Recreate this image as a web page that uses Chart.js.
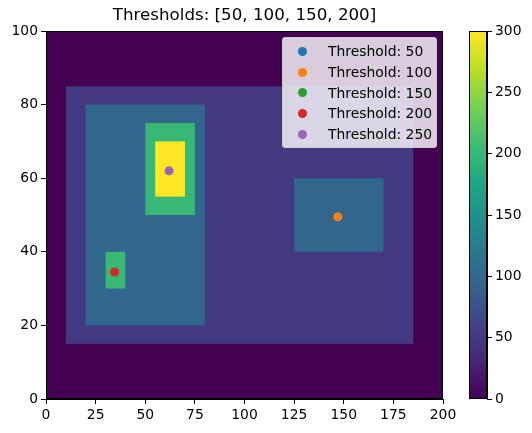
<!DOCTYPE html>
<html>
<head>
<meta charset="utf-8">
<script src="https://cdn.jsdelivr.net/npm/chart.js@4"></script>
<style>
  body { margin: 0; background: #fff; }
  #wrap { position: relative; width: 532px; height: 433px; }
  #main { position: absolute; left: 0; top: 0; }
  #cbar { position: absolute; left: 462px; top: 0; }
  #legend {
    position: absolute; left: 282px; top: 37px; width: 155px;
    padding: 3px 0 3px 0; box-sizing: border-box;
    background: rgba(255,255,255,0.8); border: 1px solid #cccccc; border-radius: 3px;
    font-family: "DejaVu Sans", sans-serif; font-size: 13.9px; color: #000;
  }
  .row { height: 20.7px; display: flex; align-items: center; }
  .dot { width: 9px; height: 9px; border-radius: 50%; margin-left: 15px; margin-right: 21px; }
</style>
</head>
<body>
<div id="wrap">
  <canvas id="main" width="532" height="433"></canvas>
  <canvas id="cbar" width="70" height="433"></canvas>
  <div id="legend"></div>
</div>
<script>
// image regions (drawn in order, later on top)
const rectX0 = [0, 10, 20, 125, 50, 55, 30];
const rectX1 = [200, 185, 80, 170, 75, 70, 40];
const rectY0 = [0, 15, 20, 40, 50, 55, 30];
const rectY1 = [100, 85, 80, 60, 75, 70, 40];
const rectValue = [0, 50, 100, 100, 200, 300, 200];

// centroid markers per threshold
const thresholds = [50, 100, 150, 200, 250];
const pointX = [[], [147], [], [34.5], [62]];
const pointY = [[], [49.5], [], [34.5], [62]];
const pointColors = ["#1f77b4", "#ff7f0e", "#2ca02c", "#d62728", "#9467bd"];

const titleText = "Thresholds: [50, 100, 150, 200]";
const xTicks = [0, 25, 50, 75, 100, 125, 150, 175, 200];
const yTicks = [0, 20, 40, 60, 80, 100];
const cbTicks = [0, 50, 100, 150, 200, 250, 300];
const vMin = 0, vMax = 300;

const viridis = ["#440154", "#482475", "#414487", "#355f8d", "#2a788e", "#21918c",
  "#22a884", "#44bf70", "#7ad151", "#bddf26", "#fde725"];

function hexToRgb(h) {
  return [parseInt(h.slice(1, 3), 16), parseInt(h.slice(3, 5), 16), parseInt(h.slice(5, 7), 16)];
}
function colorFor(v) {
  let t = (v - vMin) / (vMax - vMin);
  t = Math.max(0, Math.min(1, t)) * (viridis.length - 1);
  const i = Math.min(Math.floor(t), viridis.length - 2);
  const f = t - i;
  const a = hexToRgb(viridis[i]), b = hexToRgb(viridis[i + 1]);
  const c = a.map((x, k) => Math.round(x + (b[k] - x) * f));
  return "rgb(" + c.join(",") + ")";
}

const font = "'DejaVu Sans', sans-serif";
Chart.defaults.font.family = font;
Chart.defaults.color = "#000";

const heatmap = {
  id: "heatmap",
  beforeDatasetsDraw(chart) {
    const ctx = chart.ctx, xs = chart.scales.x, ys = chart.scales.y, a = chart.chartArea;
    ctx.save();
    ctx.beginPath();
    ctx.rect(a.left, a.top, a.right - a.left, a.bottom - a.top);
    ctx.clip();
    for (let i = 0; i < rectValue.length; i++) {
      const l = xs.getPixelForValue(rectX0[i]), r = xs.getPixelForValue(rectX1[i]);
      const t = ys.getPixelForValue(rectY1[i]), b = ys.getPixelForValue(rectY0[i]);
      ctx.fillStyle = colorFor(rectValue[i]);
      ctx.fillRect(l, t, r - l, b - t);
    }
    ctx.restore();
  },
  afterDraw(chart) {
    const ctx = chart.ctx, a = chart.chartArea;
    ctx.save();
    ctx.strokeStyle = "#000";
    ctx.lineWidth = 1;
    ctx.strokeRect(a.left + 0.5, a.top + 0.5, a.right - a.left - 1, a.bottom - a.top - 1);
    ctx.restore();
  }
};

const datasets = thresholds.map((th, i) => ({
  label: "Threshold: " + th,
  data: pointX[i].map((x, k) => ({ x: x, y: pointY[i][k] })),
  backgroundColor: pointColors[i],
  borderColor: pointColors[i],
  pointRadius: 4.5,
  pointBorderWidth: 0,
  order: thresholds.length - i
}));

const tickStyle = { font: { size: 13.9, family: font }, color: "#000", padding: 3 };
const gridStyle = { display: true, drawOnChartArea: false, drawTicks: true, tickLength: 5, color: "#000", lineWidth: 1 };

new Chart(document.getElementById("main"), {
  type: "scatter",
  data: { datasets: datasets },
  options: {
    responsive: false,
    animation: false,
    devicePixelRatio: 1,
    layout: { padding: { left: 0, right: 89, top: 0, bottom: 0 } },
    plugins: {
      legend: { display: false },
      tooltip: { enabled: false },
      title: {
        display: true, text: titleText, fullSize: false, color: "#000",
        font: { size: 16.7, weight: "normal", family: font, lineHeight: 1.2 },
        padding: { top: 6, bottom: 5 }
      }
    },
    scales: {
      x: {
        type: "linear", min: 0, max: 200,
        afterBuildTicks: (s) => { s.ticks = xTicks.map(v => ({ value: v })); },
        afterFit: (s) => { s.height = 34; },
        ticks: Object.assign({ maxRotation: 0 }, tickStyle),
        grid: gridStyle,
        border: { display: true, color: "#000" }
      },
      y: {
        type: "linear", min: 0, max: 100,
        afterBuildTicks: (s) => { s.ticks = yTicks.map(v => ({ value: v })); },
        afterFit: (s) => { s.width = 46; },
        ticks: tickStyle,
        grid: gridStyle,
        border: { display: true, color: "#000" }
      }
    }
  },
  plugins: [heatmap]
});

// colorbar
const colorbar = {
  id: "colorbar",
  beforeDatasetsDraw(chart) {
    const ctx = chart.ctx, a = chart.chartArea, ys = chart.scales.y;
    const top = ys.getPixelForValue(vMax), bottom = ys.getPixelForValue(vMin);
    const g = ctx.createLinearGradient(0, bottom, 0, top);
    for (let i = 0; i <= 60; i++) {
      g.addColorStop(i / 60, colorFor(vMin + (vMax - vMin) * i / 60));
    }
    ctx.save();
    ctx.fillStyle = g;
    ctx.fillRect(a.left, top, a.right - a.left, bottom - top);
    ctx.strokeStyle = "#000";
    ctx.lineWidth = 1;
    ctx.strokeRect(a.left + 0.5, top + 0.5, a.right - a.left - 1, bottom - top - 1);
    ctx.restore();
  }
};

new Chart(document.getElementById("cbar"), {
  type: "scatter",
  data: { datasets: [{ data: [] }] },
  options: {
    responsive: false,
    animation: false,
    devicePixelRatio: 1,
    layout: { padding: { left: 7, right: 0, top: 31, bottom: 34 } },
    plugins: { legend: { display: false }, tooltip: { enabled: false } },
    scales: {
      x: { display: false, min: 0, max: 1 },
      y: {
        type: "linear", position: "right", min: vMin, max: vMax,
        afterBuildTicks: (s) => { s.ticks = cbTicks.map(v => ({ value: v })); },
        afterFit: (s) => { s.width = 45; },
        ticks: tickStyle,
        grid: gridStyle,
        border: { display: true, color: "#000" }
      }
    }
  },
  plugins: [colorbar]
});

// legend from the datasets
const legend = document.getElementById("legend");
datasets.forEach((d, i) => {
  const row = document.createElement("div");
  row.className = "row";
  const dot = document.createElement("span");
  dot.className = "dot";
  dot.style.background = pointColors[i];
  const txt = document.createElement("span");
  txt.textContent = d.label;
  row.appendChild(dot);
  row.appendChild(txt);
  legend.appendChild(row);
});
</script>
</body>
</html>
